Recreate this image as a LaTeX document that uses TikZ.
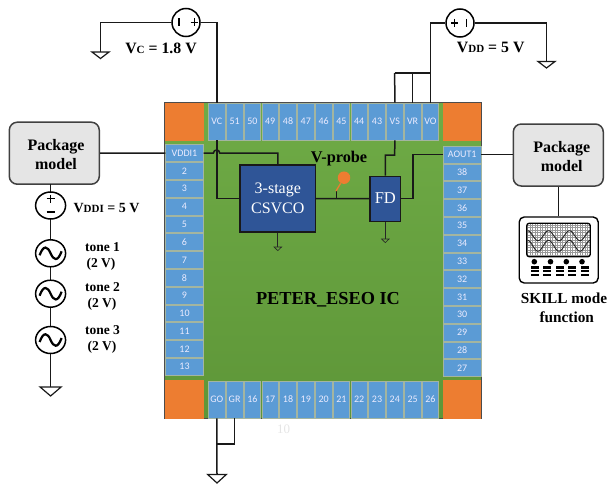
\documentclass[tikz,border=0pt]{standalone}
\usepackage{fontspec}
\usetikzlibrary{shapes.geometric}
\setmainfont{Liberation Serif}
\newfontfamily\padfont{Carlito}
\newcommand\vsub[1]{V{\fontsize{11}{11}\selectfont #1}}
\newcommand\pkgtext[1]{\rule{0pt}{14pt}\hspace*{#1}Package\\\hspace*{#1}model}
\newcommand\gndsym[3]{\draw[gndline] (#1) ++(-#2,0) -- ++(2*#2,0) -- ++(-#2,#3) -- cycle;}
\definecolor{padblue}{HTML}{5B9BD5}
\definecolor{padedge}{HTML}{A3B5A0}
\definecolor{orng}{HTML}{ED7D31}
\definecolor{blockblue}{HTML}{2F5597}
\definecolor{chiptop}{HTML}{6FAB46}
\definecolor{chipbot}{HTML}{5E9638}
\begin{document}
\begin{tikzpicture}[x=1pt,y=-1pt,
  wire/.style={line width=1.5pt,black!90},
  thinwire/.style={line width=.8pt,black!85},
  gndline/.style={line width=1.2pt,black!90,fill=white},
  chipbody/.style={draw=black!70,line width=.6pt,top color=chiptop,bottom color=chipbot,minimum width=316.5pt,minimum height=316pt,inner sep=0},
  corner/.style={fill=orng,minimum width=38.5pt,minimum height=38.5pt,inner sep=0},
  padv/.style={fill=padblue,draw=padedge,line width=.8pt,minimum width=16.6pt,minimum height=37pt,inner sep=0,text=blue!8!white,font=\padfont\fontsize{10}{10}\selectfont},
  padh/.style={fill=padblue,draw=padedge,line width=.8pt,minimum width=37.5pt,minimum height=16.8pt,inner sep=0,text=blue!8!white,font=\padfont\fontsize{10}{10}\selectfont},
  pkg/.style={draw=black!75,line width=1.5pt,fill=black!10,rounded corners=8pt,minimum width=90pt,minimum height=62pt,inner sep=0,align=center,font=\bfseries\fontsize{16}{19}\selectfont},
  block/.style={draw=black!90,line width=1.2pt,fill=blockblue,inner sep=0,text=white,align=center},
  src/.style={ellipse,draw=black,line width=1.5pt,fill=white,minimum width=30pt,minimum height=27pt,inner sep=0},
  srcv/.style={circle,draw=black,line width=1.5pt,fill=white,minimum size=28pt,inner sep=0},
  lab/.style={inner sep=0,font=\bfseries\fontsize{15.8}{15.8}\selectfont},
  tone/.style={inner sep=0,font=\bfseries\fontsize{13.5}{13.5}\selectfont},
  wavesym/.pic={\draw[line width=2.2pt] (-11,2) .. controls (-7,-9) and (-3,-7) .. (0,0) .. controls (3,7) and (7,9) .. (11,-2);}
]
\useasboundingbox (0,0) rectangle (609,487);

% chip
\node[chipbody] (chip) at (322.8,260.5) {};
\node[corner] (ctl) at (184.6,122) {};
\node[corner] (ctr) at (461.8,122) {};
\node[corner] (cbl) at (184.6,399.3) {};
\node[corner] (cbr) at (461.8,399.3) {};

% pads
\foreach \t [count=\i from 0] in {VC,51,50,49,48,47,46,45,44,43,VS,VR,VO}
  \node[padv] (t\t) at ({216.8+\i*17.8},121.5) {\t};
\foreach \t [count=\i from 0] in {GO,GR,16,17,18,19,20,21,22,23,24,25,26}
  \node[padv] (b\t) at ({216.8+\i*17.8},399.5) {\t};
\foreach \t [count=\i from 0] in {VDDI1,2,3,4,5,6,7,8,9,10,11,12,13}
  \node[padh] (l\t) at (184.5,{153.1+\i*17.8}) {\t};
\foreach \t [count=\i from 0] in {AOUT1,38,37,36,35,34,33,32,31,30,29,28,27}
  \node[padh] (r\t) at (462.2,{154.5+\i*17.8}) {\t};

% blocks
\node[block,minimum width=75.5pt,minimum height=67pt,font=\fontsize{16}{19.5}\selectfont] (vco) at (277.8,198.5) {3-stage\\CSVCO};
\node[block,minimum width=30.5pt,minimum height=45pt,font=\fontsize{16.5}{19}\selectfont] (fd) at (385.3,198.6) {FD};
\node[lab,font=\bfseries\fontsize{16.3}{16.3}\selectfont] (vprobe) at (339,159) {V-probe};
\node[circle,fill=orng,minimum size=12.5pt,inner sep=0] (probe) at (344,177.7) {};
\coordinate (ptap) at (336,198.6);
\coordinate (pstem) at (336,191);
\draw[wire] (vco.east) -- (fd.west);
\draw[wire,line width=1pt] (ptap) -- (pstem);
\draw[orng,line width=1.3pt] (pstem) -- (probe);

% chip wiring
\coordinate (hl) at (213.4,153.1);
\coordinate (hr) at (219.8,153.1);
\draw[wire] (tVC.south) |- (vco.west);
\draw[wire] (lVDDI1.east) -- (hl) .. controls (213.6,149) and (219.6,149) .. (hr) -| (vco.north);
\coordinate (vsb) at (394.7,155);
\coordinate (vsf) at (385.3,155);
\draw[wire] (tVS.south) -- (vsb) -- (vsf) -- (fd.north);
\coordinate (fdo) at (413,198.6);
\draw[wire] (fd.east) -- (fdo) |- (rAOUT1.west);
\coordinate (g1) at (277.8,247);
\coordinate (g2) at (385.3,239);
\draw[thinwire] (vco.south) -- (g1);
\draw[thinwire] (fd.south) -- (g2);
\draw[black!85,line width=.6pt] (g1) ++(-3.8,0) -- ++(7.6,0) -- ++(-3.8,3.6) -- cycle;
\draw[black!85,line width=.6pt] (g2) ++(-3.8,0) -- ++(7.6,0) -- ++(-3.8,3.6) -- cycle;

\node[lab,font=\bfseries\fontsize{18.3}{18.3}\selectfont] (ictitle) at (328,299.5) {PETER\_ESEO IC};
\node[inner sep=0,text=black!10,font=\fontsize{13}{13}\selectfont] (ghost) at (283.5,429) {10};

% VC supply
\node[srcv] (sc) at (186,22.5) {};
\coordinate (gc) at (100.5,52);
\draw[wire] (sc.west) -| (gc);
\draw[wire] (sc.east) -| (tVC.north);
\gndsym{gc}{8.5}{6.5}
\draw[line width=1.5pt] (179,18.5) -- (179,26.5) (190.5,22.5) -- (198,22.5) (194.3,18.5) -- (194.3,26.5);
\node[lab] (lvc) at (161,48) {\vsub{C} = 1.8 V};

% VDD supply
\node[srcv] (sd) at (460,23) {};
\coordinate (gd) at (546.5,61.5);
\coordinate (busr) at (430,73);
\coordinate (busl) at (394.7,73);
\draw[wire] (sd.west) -| (tVO.north);
\draw[wire] (sd.east) -| (gd);
\draw[wire] (busl) -- (busr);
\draw[wire] (busl) -- (tVS.north);
\draw[wire] (tVR.north) -- (tVR.north |- busl);
\gndsym{gd}{8.5}{6.5}
\draw[line width=1.5pt] (451,23) -- (458,23) (454.5,19) -- (454.5,27) (466.5,19) -- (466.5,27);
\node[lab] (lvd) at (490.7,47) {\vsub{DD} = 5 V};

% left package and chain
\node[pkg] (pl) at (54.3,153.2) {\pkgtext{3.4pt}};
\draw[wire] (pl.east) -- (lVDDI1.west);
\coordinate (gl) at (50.6,387);
\coordinate (chaintop) at (50.6,184);
\draw[wire] (chaintop) -- (gl);
\node[src] (sv) at (50.6,205.5) {};
\node[src] (t1) at (50.6,253.3) {};
\node[src] (t2) at (50.6,293.7) {};
\node[src] (t3) at (50.6,340) {};
\draw[line width=1.5pt] (46.5,198.5) -- (54.5,198.5) (50.5,194.5) -- (50.5,202.5) (46.5,212) -- (54.5,212);
\pic at (t1) {wavesym};
\pic at (t2) {wavesym};
\pic at (t3) {wavesym};
\gndsym{gl}{10.5}{9}
\node[lab,font=\bfseries\fontsize{14}{14}\selectfont] (lvi) at (106.5,208) {\vsub{DDI} = 5 V};
\node[tone] (n1) at (102.5,247) {tone 1};
\node[tone] (n1b) at (101,264) {(2 V)};
\node[tone] (n2) at (102.5,287.5) {tone 2};
\node[tone] (n2b) at (102,304) {(2 V)};
\node[tone] (n3) at (102.5,330) {tone 3};
\node[tone] (n3b) at (102,347) {(2 V)};

% bottom ground
\coordinate (gb) at (217,474.5);
\coordinate (jb) at (235,444);
\draw[wire] (bGO.south) -- (gb);
\draw[wire] (bGR.south) |- (bGO.south |- jb);
\gndsym{gb}{9.3}{8.5}

% right package and scope
\node[pkg] (pr) at (558.3,155) {\pkgtext{6.8pt}};
\draw[wire] (rAOUT1.east) -- (pr.west |- rAOUT1.east);
\node[draw=black,line width=1.4pt,fill=white,rounded corners=5pt,minimum width=79pt,minimum height=66pt,inner sep=0] (scope) at (558.7,250) {};
\draw[wire] (pr.south -| scope) -- (scope.north);
\draw[black!40,line width=.2pt,xstep=2.5pt,ystep=2.5pt] (527.5,224) grid (589.5,256);
\draw[line width=.9pt,black!85] plot[domain=527.7:590,samples=60,smooth] (\x,{235.7+5*cos((\x-538)*17.143)});
\draw[line width=.9pt,black!85] plot[domain=527.7:590,samples=60,smooth] (\x,{245.8+5.5*cos((\x-538)*17.143)});
\node[draw=black,line width=1.3pt,rounded corners=2.5pt,minimum width=63.5pt,minimum height=33.5pt,inner sep=0] (screen) at (558.5,240) {};
\foreach \x in {534.3,550.5,566.3,582}
  \fill (\x,261.7) circle[radius=2.8];
\foreach \x in {530.5,543,555.5,568,580.5}
  \foreach \y in {265.7,269.6,273.5}
    \fill (\x-0,\y) rectangle (\x+8.4,\y+2.8);
\node[lab,font=\bfseries\fontsize{15.3}{15.3}\selectfont] (sk1) at (564,298) {SKILL mode};
\node[lab,font=\bfseries\fontsize{15.3}{15.3}\selectfont] (sk2) at (566.7,317.5) {function};
\end{tikzpicture}
\end{document}
